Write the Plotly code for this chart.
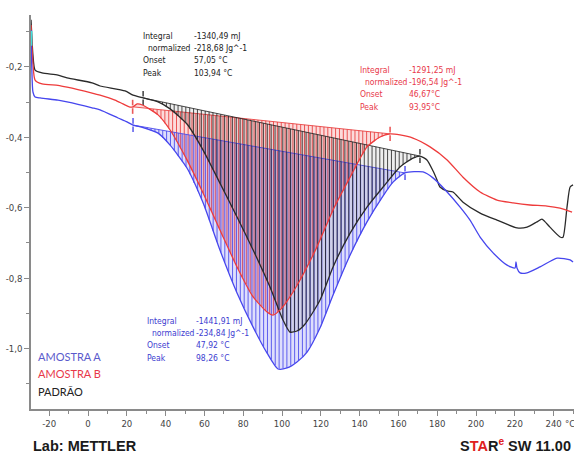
import numpy as np
import plotly.graph_objects as go

# ---------------- data ----------------
temp_padrao = [-29.4, -28.9, -28.4, -27.3, -23.7, -15.5, -10.8, 2.1, 6.2, 19.1, 23.2, 28.4,
               36.1, 42.3, 51.0, 59.3, 68.0, 76.8, 85.1, 93.8, 100.5, 104.1, 107.7, 111.9,
               119.6, 126.3, 135.1, 143.8, 152.1, 160.8, 167.5, 171.1, 174.7, 177.8, 179.9,
               181.4, 185.1, 188.1, 193.3, 202.1, 210.8, 221.1, 226.3, 231.4, 234.0, 238.1,
               243.3, 244.8, 246.9, 248.5, 250.0]
dsc_padrao = [-0.066, -0.120, -0.166, -0.209, -0.217, -0.223, -0.231, -0.245, -0.254, -0.268,
              -0.280, -0.288, -0.299, -0.319, -0.362, -0.436, -0.530, -0.626, -0.720, -0.825,
              -0.919, -0.953, -0.950, -0.930, -0.862, -0.768, -0.672, -0.598, -0.541, -0.484,
              -0.459, -0.453, -0.464, -0.495, -0.521, -0.541, -0.552, -0.555, -0.584, -0.615,
              -0.635, -0.657, -0.655, -0.640, -0.632, -0.655, -0.683, -0.684, -0.598, -0.541,
              -0.535]

temp_b = [-29.4, -28.9, -28.4, -27.3, -23.7, -15.5, -10.8, 2.1, 6.2, 13.9, 18.0, 21.6, 23.2,
          25.3, 28.0, 36.1, 42.3, 51.0, 59.3, 68.0, 76.8, 85.1, 92.3, 95.4, 99.0, 102.6, 109.3,
          118.0, 126.3, 135.1, 143.8, 150.5, 155.7, 160.8, 167.5, 176.3, 185.1, 193.3, 202.1,
          210.8, 219.1, 227.8, 236.6, 243.3, 249.5]
dsc_b = [-0.081, -0.140, -0.190, -0.237, -0.248, -0.252, -0.257, -0.274, -0.280, -0.294, -0.305,
         -0.314, -0.313, -0.305, -0.308, -0.336, -0.379, -0.464, -0.558, -0.663, -0.768, -0.853,
         -0.896, -0.905, -0.890, -0.865, -0.805, -0.711, -0.606, -0.513, -0.427, -0.399, -0.390,
         -0.393, -0.402, -0.427, -0.464, -0.513, -0.555, -0.578, -0.586, -0.592, -0.595, -0.601,
         -0.612]

temp_a = [-29.4, -29.0, -28.4, -27.3, -24.7, -15.5, -10.8, 2.1, 6.2, 15.5, 20.1, 23.2, 28.4,
          36.1, 42.3, 51.0, 59.3, 68.0, 76.8, 85.1, 92.3, 97.9, 102.6, 107.7, 112.9, 119.6,
          126.3, 135.1, 143.8, 152.1, 157.2, 163.4, 172.7, 177.8, 185.1, 191.8, 196.9, 202.1,
          208.8, 216.0, 220.1, 220.6, 221.1, 222.7, 226.3, 233.0, 241.8, 248.5, 250.0]
dsc_a = [-0.095, -0.200, -0.271, -0.285, -0.288, -0.294, -0.299, -0.316, -0.322, -0.345, -0.356,
         -0.365, -0.372, -0.388, -0.422, -0.487, -0.586, -0.720, -0.842, -0.939, -1.013, -1.058,
         -1.055, -1.038, -1.010, -0.941, -0.848, -0.734, -0.640, -0.566, -0.527, -0.501, -0.498,
         -0.515, -0.555, -0.598, -0.635, -0.683, -0.728, -0.763, -0.771, -0.754, -0.771, -0.785,
         -0.785, -0.768, -0.743, -0.748, -0.754]

cyan_temp = [-29.2, -29.2]
cyan_dsc = [-0.098, -0.140]

# integration limits (start, end) in °C
limits_padrao = [28.4, 171.1]
limits_b = [23.0, 155.7]
limits_a = [23.2, 163.4]

x_tickvals = [-20, 0, 20, 40, 60, 80, 100, 120, 140, 160, 180, 200, 220, 240]
x_ticktext = ["-20", "0", "20", "40", "60", "80", "100", "120", "140", "160", "180", "200", "220", "240"]
x_minorvals = [-30, -10, 10, 30, 50, 70, 90, 110, 130, 150, 170, 190, 210, 230, 250]
y_tickvals = [-1.0, -0.8, -0.6, -0.4, -0.2]
y_ticktext = ["-1,0", "-0,8", "-0,6", "-0,4", "-0,2"]
y_minorvals = [-1.1, -0.9, -0.7, -0.5, -0.3, -0.1]

results_labels = ["Integral", "normalized", "Onset", "Peak"]
results_padrao = ["-1340,49 mJ", "-218,68 Jg^-1", "57,05 °C", "103,94 °C"]
results_b = ["-1291,25 mJ", "-196,54 Jg^-1", "46,67°C", "93,95°C"]
results_a = ["-1441,91 mJ", "-234,84 Jg^-1", "47,92 °C", "98,26 °C"]

legend_names = ["AMOSTRA A", "AMOSTRA B", "PADRÃO"]

# ---------------- styling / layout ----------------
C_BLACK = "#2a2a2a"
C_RED = "#ee3b3b"
C_BLUE = "#4646ee"
TXT_RED = "#e8384a"
TXT_BLUE = "#3c3cd0"
W, H = 574, 457
L, R, T, B = 31, 0, 15, 457 - 409
XR = [-29.4, 250.5]
YR = [-1.1716, -0.0523]

fig = go.Figure()


def hatch(temp, dsc, lim, color, fillcol, step=2.0, offset=0.0):
    t = np.asarray(temp, float)
    d = np.asarray(dsc, float)
    t0, t1 = lim
    y0 = np.interp(t0, t, d)
    y1 = np.interp(t1, t, d)
    tt = np.linspace(t0, t1, 120)
    cc = np.interp(tt, t, d)
    fig.add_trace(go.Scatter(x=list(tt) + [t0], y=list(cc) + [y0], mode="lines", fill="toself",
                             fillcolor=fillcol, line=dict(width=0), hoverinfo="skip", showlegend=False))
    xs, ys = [], []
    for xv in np.arange(t0 + offset, t1, step):
        base = y0 + (y1 - y0) * (xv - t0) / (t1 - t0)
        cv = np.interp(xv, t, d)
        if cv < base:
            xs += [xv, xv, None]
            ys += [base, cv, None]
    fig.add_trace(go.Scatter(x=xs, y=ys, mode="lines", line=dict(color=color, width=1),
                             hoverinfo="skip", showlegend=False))
    fig.add_trace(go.Scatter(x=[t0, t1], y=[y0, y1], mode="lines",
                             line=dict(color=color, width=1), hoverinfo="skip", showlegend=False))
    fig.add_trace(go.Scatter(x=[t0, t0, t1, t1], y=[y0 + 0.012, y0 - 0.012, y1 + 0.012, y1 - 0.012],
                             mode="markers",
                             marker=dict(symbol="line-ns-open", size=4, color=color,
                                         line=dict(color=color, width=1.6)),
                             hoverinfo="skip", showlegend=False))


hatch(temp_b, dsc_b, limits_b, "rgba(232,60,60,0.85)", "rgba(240,90,90,0.22)", offset=0.6)
hatch(temp_a, dsc_a, limits_a, "rgba(70,70,235,0.85)", "rgba(90,90,240,0.2)", offset=1.3)
hatch(temp_padrao, dsc_padrao, limits_padrao, "rgba(30,30,30,0.8)", "rgba(40,40,40,0.08)", offset=0.0)

for temp, dsc, col, name in [(temp_padrao, dsc_padrao, C_BLACK, legend_names[2]),
                             (temp_b, dsc_b, C_RED, legend_names[1]),
                             (temp_a, dsc_a, C_BLUE, legend_names[0])]:
    fig.add_trace(go.Scatter(x=temp, y=dsc, mode="lines", name=name,
                             line=dict(color=col, width=1.3, shape="spline", smoothing=0.6),
                             showlegend=False))

fig.add_trace(go.Scatter(x=cyan_temp, y=cyan_dsc, mode="lines",
                         line=dict(color="#40e0e0", width=2), showlegend=False, hoverinfo="skip"))


def px(xp):
    return (xp - L) / (W - L - R)


def py(yp):
    return (H - B - yp) / (H - T - B)


TFONT = "DejaVu Sans Condensed, Liberation Sans Narrow, Liberation Sans"
ann = []


def block(values, xl, xv, ytop, color):
    for i, (lab, val) in enumerate(zip(results_labels, values)):
        yy = ytop + i * 12.2
        ann.append(dict(x=px(xl + (5 if i == 1 else 0)), y=py(yy), xref="paper", yref="paper",
                        text=lab, showarrow=False, xanchor="left", yanchor="middle",
                        font=dict(family=TFONT, size=8.5, color=color)))
        ann.append(dict(x=px(xv), y=py(yy), xref="paper", yref="paper", text=val,
                        showarrow=False, xanchor="left", yanchor="middle",
                        font=dict(family=TFONT, size=8.5, color=color)))


block(results_padrao, 141, 192, 36, "#222222")
block(results_b, 358, 407, 70, TXT_RED)
block(results_a, 145, 194, 321, TXT_BLUE)

for i, (nm, col) in enumerate(zip(legend_names, ["#5a5acc", "#e8384a", "#222222"])):
    ann.append(dict(x=px(36), y=py(356 + i * 17.5), xref="paper", yref="paper", text=nm,
                    showarrow=False, xanchor="left", yanchor="middle",
                    font=dict(family="Lato, Open Sans, Liberation Sans", size=11, color=col)))

ann.append(dict(x=px(570), y=py(423), xref="paper", yref="paper", text="°C", showarrow=False,
                xanchor="center", yanchor="middle", font=dict(family=TFONT, size=9.5, color="#444")))
ann.append(dict(x=px(31), y=py(446), xref="paper", yref="paper", text="<b>Lab: METTLER</b>",
                showarrow=False, xanchor="left", yanchor="middle",
                font=dict(family="Liberation Sans, Arial", size=14.5, color="#1a1a1a")))
ann.append(dict(x=px(573), y=py(445), xref="paper", yref="paper",
                text='<b>S<span style="color:#e02020">TA</span>R<sup><span style="color:#e02020">e</span></sup> SW 11.00</b>',
                showarrow=False, xanchor="right", yanchor="middle",
                font=dict(family="Liberation Sans, Arial", size=14.5, color="#1a1a1a")))

axis_common = dict(showline=True, linecolor="#8a8a8a", linewidth=1.5, showgrid=False, zeroline=False,
                   ticks="outside", ticklen=5, tickwidth=1, tickcolor="#8a8a8a",
                   tickfont=dict(family=TFONT, size=9.5, color="#444"))

fig.update_layout(
    width=W, height=H, margin=dict(l=L, r=R, t=T, b=B, autoexpand=False),
    paper_bgcolor="white", plot_bgcolor="white", showlegend=False,
    xaxis=dict(range=XR, tickmode="array", tickvals=x_tickvals, ticktext=x_ticktext,
               minor=dict(tickmode="array", tickvals=x_minorvals,
                          ticks="outside", ticklen=3, tickcolor="#8a8a8a"),
               **axis_common),
    yaxis=dict(range=YR, tickmode="array", tickvals=y_tickvals, ticktext=y_ticktext,
               minor=dict(tickmode="array", tickvals=y_minorvals,
                          ticks="outside", ticklen=3, tickcolor="#8a8a8a"),
               **axis_common),
    annotations=ann,
)

fig.write_html("out.html", config={"displayModeBar": False},
               post_script="document.body.style.margin='0px';")
